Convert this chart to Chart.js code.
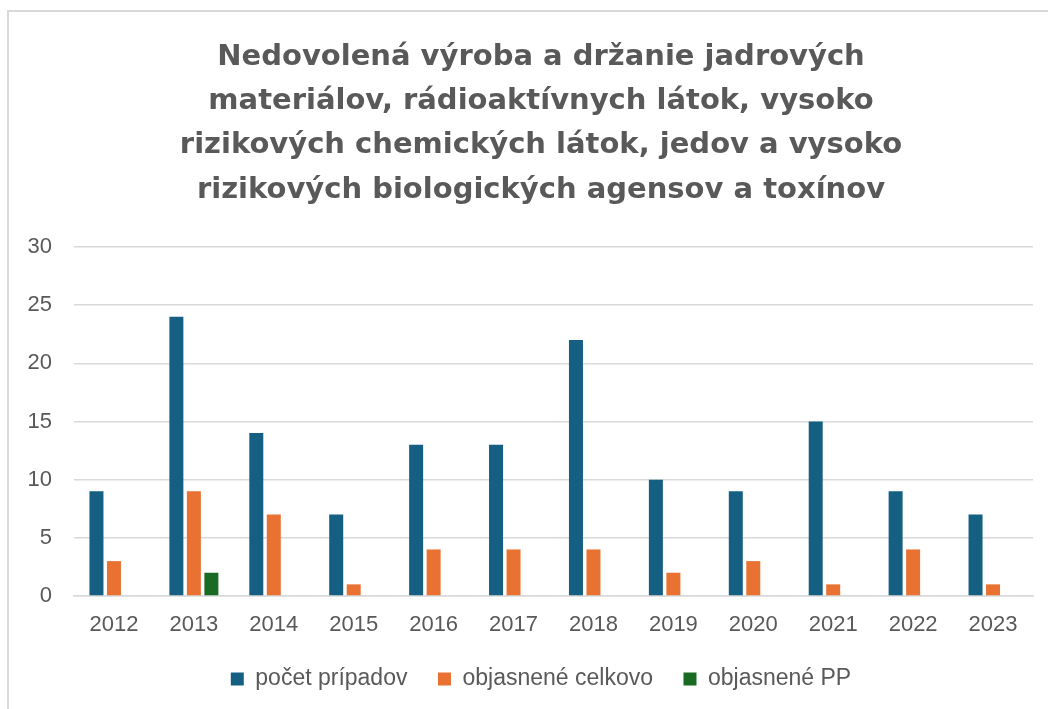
<!DOCTYPE html>
<html>
<head>
<meta charset="utf-8">
<script src="https://cdn.jsdelivr.net/npm/chart.js@4"></script>
<style>
  html, body { margin: 0; padding: 0; background: #fff; overflow: hidden; width: 1048px; height: 709px; }
  #frame { position: absolute; left: 7px; top: 10px; width: 1100px; height: 800px;
           border-left: 2px solid #d9d9d9; border-top: 2px solid #d9d9d9; }
  #wrap { position: absolute; left: 0; top: 0; width: 1082px; height: 709px; }
</style>
</head>
<body>
<div id="frame"></div>
<div id="wrap"><canvas id="chartCrimes"></canvas></div>
<script>
const years = ['2012', '2013', '2014', '2015', '2016', '2017', '2018', '2019', '2020', '2021', '2022', '2023'];
const pocetPripadov = [9, 24, 14, 7, 13, 13, 22, 10, 9, 15, 9, 7];
const objasneneCelkovo = [3, 9, 7, 1, 4, 4, 4, 2, 3, 1, 4, 1];
const objasnenePP = [0, 2, 0, 0, 0, 0, 0, 0, 0, 0, 0, 0];
const titleLines = [
    'Nedovolená výroba a držanie jadrových',
    'materiálov, rádioaktívnych látok, vysoko',
    'rizikových chemických látok, jedov a vysoko',
    'rizikových biologických agensov a toxínov'
];

function DrawChartCrimes() {
    const GRAY = '#595959';
    const FONT = "'Liberation Sans', Arial, sans-serif";

    // legend gets a fixed height so the plot keeps its place
    const legendHeight = {
        id: 'legendHeight',
        beforeInit(chart) {
            const origFit = chart.legend.fit;
            chart.legend.fit = function () {
                origFit.bind(chart.legend)();
                this.height = 72;
            };
        }
    };

    const data = {
        labels: years,
        datasets: [
            { label: 'počet prípadov', data: pocetPripadov, backgroundColor: '#156082' },
            { label: 'objasnené celkovo', data: objasneneCelkovo, backgroundColor: '#E97132' },
            { label: 'objasnené PP', data: objasnenePP, backgroundColor: '#196B24' }
        ]
    };

    const config = {
        type: 'bar',
        data: data,
        options: {
            responsive: true,
            maintainAspectRatio: false,
            animation: false,
            categoryPercentage: 0.657,
            barPercentage: 0.8,
            layout: { padding: 0 },
            scales: {
                x: {
                    grid: { display: false, drawTicks: false },
                    border: { color: '#d9d9d9', width: 1.5 },
                    ticks: { color: GRAY, font: { family: FONT, size: 22, lineHeight: 1 }, padding: 17.5 },
                    afterFit(scale) { scale.height = 41; }
                },
                y: {
                    min: 0,
                    max: 30,
                    ticks: { stepSize: 5, color: GRAY, font: { family: FONT, size: 22 }, padding: 22 },
                    grid: { color: '#d9d9d9', lineWidth: 1.5, drawTicks: false },
                    border: { display: false },
                    afterFit(scale) { scale.width = 74; }
                },
                // empty right axis, only keeps the plot narrower than the title area
                spacer: {
                    position: 'right',
                    grid: { display: false, drawTicks: false },
                    border: { display: false },
                    ticks: { display: false },
                    afterFit(scale) { scale.width = 49; }
                }
            },
            plugins: {
                legend: {
                    position: 'bottom',
                    labels: {
                        boxWidth: 13,
                        boxHeight: 13,
                        padding: 30.5,
                        color: GRAY,
                        font: { family: FONT, size: 23 }
                    }
                },
                title: {
                    display: true,
                    text: titleLines,
                    color: GRAY,
                    font: { family: "'DejaVu Sans', sans-serif", size: 29, weight: 'bold', lineHeight: 1.53 },
                    padding: { top: 35, bottom: 34.5 }
                },
                tooltip: { enabled: false }
            }
        },
        plugins: [legendHeight]
    };

    const ctx = document.getElementById('chartCrimes');
    new Chart(ctx, config);
}

DrawChartCrimes();
</script>
</body>
</html>
